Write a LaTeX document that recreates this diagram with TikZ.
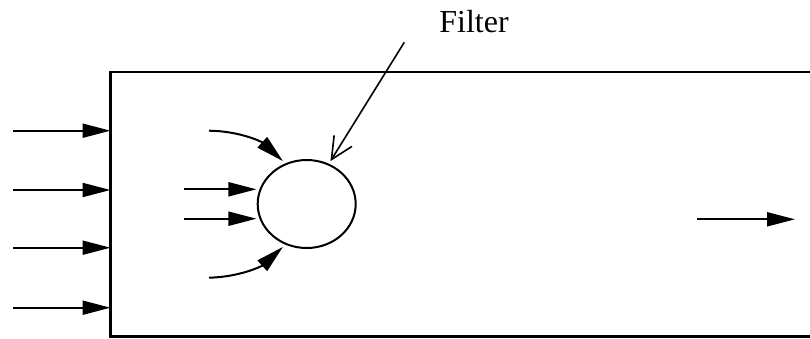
\documentclass[tikz,border=0pt]{standalone}
\usepackage{fontspec}
\setmainfont{Liberation Serif}
\usetikzlibrary{arrows.meta,shapes.geometric}
\tikzset{
  flow/.style={line width=2pt,-{Triangle[length=28pt,width=14pt]}},
  pointer/.style={line width=1.6pt,-{Straight Barb[length=22pt,width=21pt,line width=1.6pt]}},
  filterbox/.style={draw,ellipse,line width=2pt,minimum width=98pt,minimum height=88pt,inner sep=0pt,outer sep=4pt},
  lbl/.style={font=\fontsize{32pt}{38pt}\selectfont,inner sep=0pt,anchor=base}
}
\begin{document}
\begin{tikzpicture}[x=1pt,y=-1pt]
\useasboundingbox (0,0) rectangle (810,338);
% housing (open to the right)
\draw[line width=2.2pt] (810,72) -- (110.5,72) -- (110.5,336.5) -- (810,336.5);
\coordinate (b1) at (110.5,130.7);
\coordinate (b2) at (110.5,190);
\coordinate (b3) at (110.5,247.7);
\coordinate (b4) at (110.5,307.7);
\coordinate (a1) at (13,130.7);
\coordinate (a2) at (13,190);
\coordinate (a3) at (13,247.7);
\coordinate (a4) at (13,307.7);
\foreach \i in {1,...,4} \draw[flow] (a\i) -- (b\i);
% filter
\node[filterbox] (filter) at (306.7,204) {};
\node[lbl] (label) at (474,32.7) {Filter};
\coordinate (fs) at (404.3,42.3);
\draw[pointer] (fs) -- (filter.61);
% inflows to filter
\coordinate (c1) at (184,189.3);
\coordinate (c2) at (184,218.7);
\draw[flow] (c1) -- (c1 -| filter.163);
\draw[flow] (c2) -- (c2 -| filter.-163);
\coordinate (d1) at (209,130.7);
\coordinate (d2) at (209,277.7);
\draw[flow] (d1) .. controls (240,131) and (262,142) .. (filter.119);
\draw[flow] (d2) .. controls (240,277) and (262,266) .. (filter.-119);
% outflow
\coordinate (o1) at (697,219.3);
\coordinate (o2) at (795,219.3);
\draw[flow] (o1) -- (o2);
\end{tikzpicture}
\end{document}
